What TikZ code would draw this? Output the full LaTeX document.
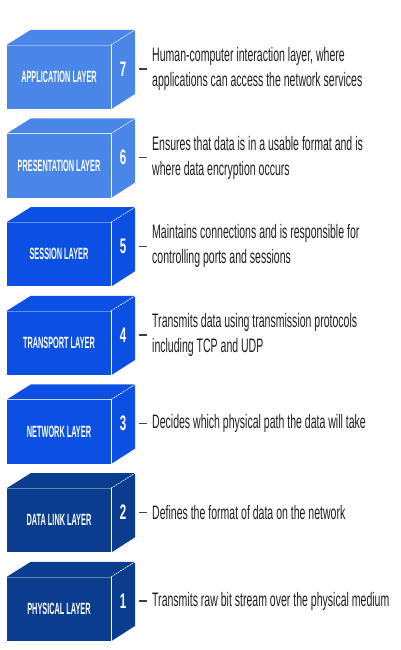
\documentclass[tikz,border=0pt]{standalone}
\usepackage{fontspec}
\setmainfont{Liberation Sans}
\newfontfamily\descfont{Liberation Sans}[FakeStretch=0.54]
\newfontfamily\labfont{Liberation Sans}[FakeStretch=0.45]
\newfontfamily\numfont{Liberation Sans}[FakeStretch=0.55]
\definecolor{lblue}{HTML}{4A86E8}
\definecolor{mblue}{HTML}{0B50E2}
\definecolor{nblue}{HTML}{0A3D8E}
\definecolor{txt}{HTML}{1E1E1E}
\tikzset{
  frontface/.style={fill=#1, draw=none, minimum width=104pt, minimum height=64pt,
    inner sep=0pt, text=white, font=\labfont\bfseries\fontsize{16.3}{18}\selectfont},
  numlabel/.style={text=white, inner sep=0pt, font=\numfont\bfseries\fontsize{21}{22}\selectfont},
  desclabel/.style={anchor=west, inner sep=0pt, align=left, text=txt,
    font=\descfont\fontsize{19.5}{25}\selectfont},
  dashline/.style={draw=txt!85, line width=1.4pt},
  edgeline/.style={draw=white, line width=0.6pt},
  dashedge/.style={draw=white, line width=0.7pt, dash pattern=on 1.5pt off 1.2pt}
}
\newcommand\drawlayer[5]{%
  \node[frontface=#3] (f#1) at (59,#2+32) {#4};
  \fill[#3] (f#1.north west) -- ++(24,-15) -- ++(104,0) -- (f#1.north east) -- cycle;
  \fill[#3] (f#1.north east) -- ++(24,-15) -- ++(0,64) -- (f#1.south east) -- cycle;
  \draw[edgeline] (f#1.north east) -- (f#1.south east);
  \draw[draw=white, opacity=0.35, line width=0.5pt] (f#1.north west) -- (f#1.north east);
  \draw[dashedge] (f#1.north east) -- ++(24,-15);
  \node[numlabel] (n#1) at (123,#2+24) {#1};
  \node[desclabel] (d#1) at (152,#2+24) {#5};
  \draw[dashline] ([xshift=16pt]n#1.center) -- ([xshift=-5pt]d#1.west);
}
\begin{document}
\begin{tikzpicture}[x=1pt,y=-1pt]
\useasboundingbox (0,0) rectangle (400,650);
\drawlayer{7}{45}{lblue}{APPLICATION LAYER}{Human-computer interaction layer, where\\applications can access the network services}
\drawlayer{6}{133.67}{lblue}{PRESENTATION LAYER}{Ensures that data is in a usable format and is\\where data encryption occurs}
\drawlayer{5}{222.33}{mblue}{SESSION LAYER}{Maintains connections and is responsible for\\controlling ports and sessions}
\drawlayer{4}{311}{mblue}{TRANSPORT LAYER}{Transmits data using transmission protocols\\including TCP and UDP}
\drawlayer{3}{399.67}{mblue}{NETWORK LAYER}{Decides which physical path the data will take}
\drawlayer{2}{488.33}{nblue}{DATA LINK LAYER}{Defines the format of data on the network}
\drawlayer{1}{577}{nblue}{PHYSICAL LAYER}{Transmits raw bit stream over the physical medium}
\end{tikzpicture}
\end{document}
